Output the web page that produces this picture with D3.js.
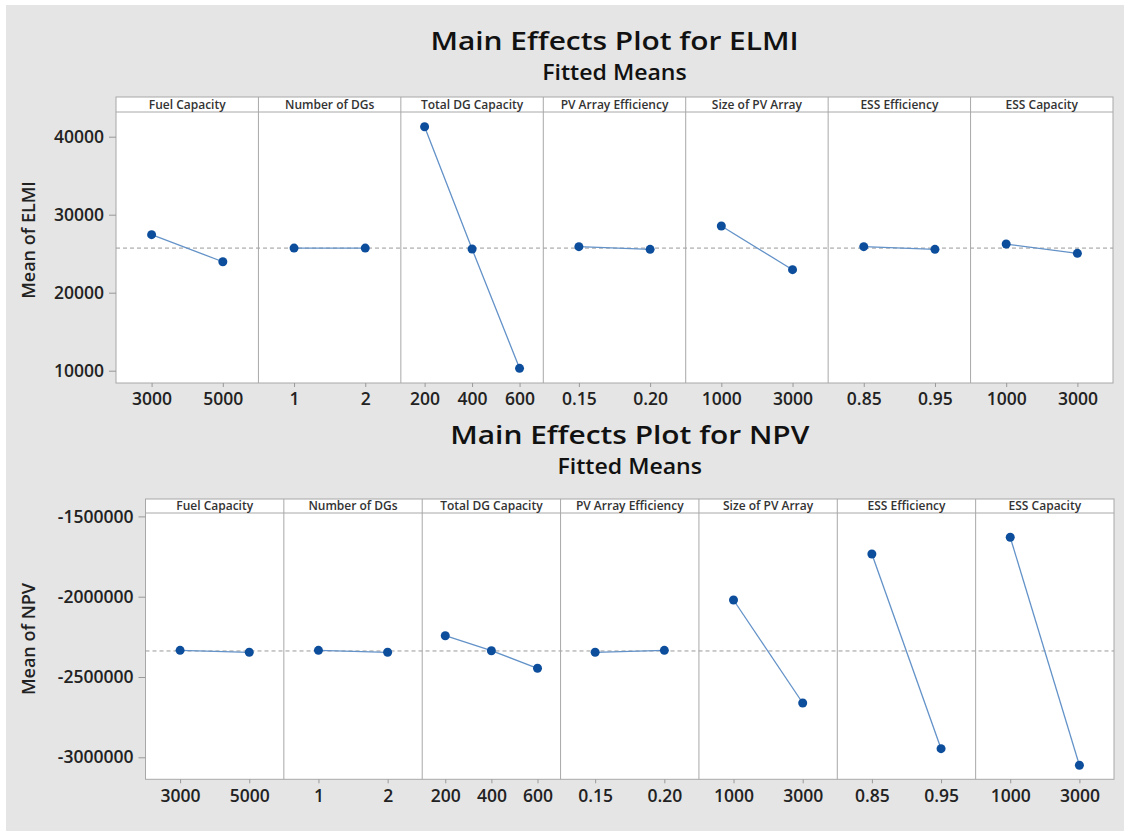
<!DOCTYPE html>
<html>
<head>
<meta charset="utf-8">
<script src="https://cdn.jsdelivr.net/npm/d3@7"></script>
<style>
  body { margin: 0; background: #fff; }
  svg text { font-family: "Open Sans", "Noto Sans", sans-serif; }
</style>
</head>
<body>
<svg id="chart" width="1124" height="831"></svg>
<script>
// factors and their levels (same for both plots)
var factors = ["Fuel Capacity", "Number of DGs", "Total DG Capacity", "PV Array Efficiency",
               "Size of PV Array", "ESS Efficiency", "ESS Capacity"];
var levels = [["3000", "5000"], ["1", "2"], ["200", "400", "600"], ["0.15", "0.20"],
              ["1000", "3000"], ["0.85", "0.95"], ["1000", "3000"]];

// fitted means
var elmiMeans = [[27440, 23970], [25720, 25720], [41280, 25600, 10300], [25900, 25560],
                 [28550, 22950], [25900, 25560], [26240, 25050]];
var npvMeans = [[-2333800, -2346200], [-2333800, -2346200], [-2242800, -2336300, -2445800],
                [-2346200, -2333800], [-2020500, -2661900], [-1734100, -2946400],
                [-1630000, -3049800]];

var elmiTicks = [10000, 20000, 30000, 40000];
var npvTicks = [-3000000, -2500000, -2000000, -1500000];
var elmiGrand = 25720;
var npvGrand = -2338000;

var svg = d3.select("#chart");

svg.append("rect")
  .attr("x", 6).attr("y", 5)
  .attr("width", 1118).attr("height", 826)
  .attr("fill", "#e5e5e5");

function drawPlot(opt) {
  var g = svg.append("g");

  var panel = d3.scaleBand().domain(factors).range([opt.left, opt.right]);
  var y = d3.scaleLinear().domain(opt.domain).range([opt.bottom, opt.top]);
  var pw = panel.bandwidth();
  var cx = (opt.left + opt.right) / 2;

  // titles are a bit wider in the original, so stretch horizontally
  g.append("text")
    .attr("transform", "translate(" + cx + "," + (opt.titleY - 1) + ") scale(1.15,1)")
    .attr("text-anchor", "middle")
    .attr("font-size", 26).attr("font-weight", 600)
    .attr("fill", "#111")
    .text(opt.title);

  g.append("text")
    .attr("transform", "translate(" + cx + "," + (opt.titleY + 29.5) + ") scale(1.1,1)")
    .attr("text-anchor", "middle")
    .attr("font-size", 21).attr("font-weight", 600)
    .attr("fill", "#111")
    .text("Fitted Means");

  // white plot area + header strip
  g.append("rect")
    .attr("x", opt.left).attr("y", opt.headerTop)
    .attr("width", opt.right - opt.left).attr("height", opt.bottom - opt.headerTop)
    .attr("fill", "#fff").attr("stroke", "#a8a8a8");

  g.append("line")
    .attr("x1", opt.left).attr("x2", opt.right)
    .attr("y1", opt.top).attr("y2", opt.top)
    .attr("stroke", "#a8a8a8");

  // reference line at grand mean
  g.append("line")
    .attr("x1", opt.left).attr("x2", opt.right)
    .attr("y1", y(opt.grand)).attr("y2", y(opt.grand))
    .attr("stroke", "#9a9a9a").attr("stroke-dasharray", "4,3");

  // y axis
  var yAxis = d3.axisLeft(y).tickValues(opt.ticks).tickSize(7).tickPadding(5)
    .tickFormat(function(d) { return String(d); });
  var ya = g.append("g").attr("transform", "translate(" + opt.left + ",0)").call(yAxis);
  ya.select(".domain").remove();
  ya.selectAll("line").attr("stroke", "#999");
  ya.selectAll("text")
    .attr("font-size", 17.5).attr("font-weight", 600).attr("fill", "#222")
    .style("font-family", "'Open Sans', sans-serif");

  g.append("text")
    .attr("transform", "translate(" + opt.labelX + "," + opt.labelY + ") rotate(-90)")
    .attr("text-anchor", "middle").attr("dy", "0.35em")
    .attr("font-size", 18).attr("font-weight", 600).attr("fill", "#222")
    .text(opt.ylabel);

  var line = d3.line()
    .x(function(d) { return d.x; })
    .y(function(d) { return y(d.v); });

  factors.forEach(function(f, i) {
    var x0 = panel(f);
    var x = d3.scalePoint().domain(levels[i]).range([x0, x0 + pw]).padding(0.5);

    if (i > 0) {
      g.append("line")
        .attr("x1", x0).attr("x2", x0)
        .attr("y1", opt.headerTop).attr("y2", opt.bottom)
        .attr("stroke", "#a8a8a8");
    }

    g.append("text")
      .attr("x", x0 + pw / 2).attr("y", (opt.headerTop + opt.top) / 2)
      .attr("dy", "0.35em").attr("text-anchor", "middle")
      .attr("font-size", 12).attr("font-weight", 600).attr("fill", "#333")
      .text(f);

    var xAxis = d3.axisBottom(x).tickSize(4).tickPadding(6);
    var xa = g.append("g").attr("transform", "translate(0," + opt.bottom + ")").call(xAxis);
    xa.select(".domain").remove();
    xa.selectAll("line").attr("stroke", "#999");
    xa.selectAll("text")
      .attr("font-size", 17.5).attr("font-weight", 600).attr("fill", "#222")
      .style("font-family", "'Open Sans', sans-serif");

    var pts = opt.means[i].map(function(v, j) { return { x: x(levels[i][j]), v: v }; });

    g.append("path")
      .attr("d", line(pts))
      .attr("fill", "none").attr("stroke", "#6392c8").attr("stroke-width", 1.3);

    g.selectAll(null).data(pts).enter().append("circle")
      .attr("cx", function(d) { return d.x; })
      .attr("cy", function(d) { return y(d.v); })
      .attr("r", 4.5)
      .attr("fill", "#0d4e9c");
  });
}

drawPlot({
  title: "Main Effects Plot for ELMI", ylabel: "Mean of ELMI",
  means: elmiMeans, ticks: elmiTicks, grand: elmiGrand,
  left: 116, right: 1113, headerTop: 97, top: 112, bottom: 383,
  domain: [8423, 43167], titleY: 50.5, labelX: 29, labelY: 240
});

drawPlot({
  title: "Main Effects Plot for NPV", ylabel: "Mean of NPV",
  means: npvMeans, ticks: npvTicks, grand: npvGrand,
  left: 145.5, right: 1114, headerTop: 499, top: 513, bottom: 779.3,
  domain: [-3136986, -1478830], titleY: 444.5, labelX: 29, labelY: 639
});
</script>
</body>
</html>
